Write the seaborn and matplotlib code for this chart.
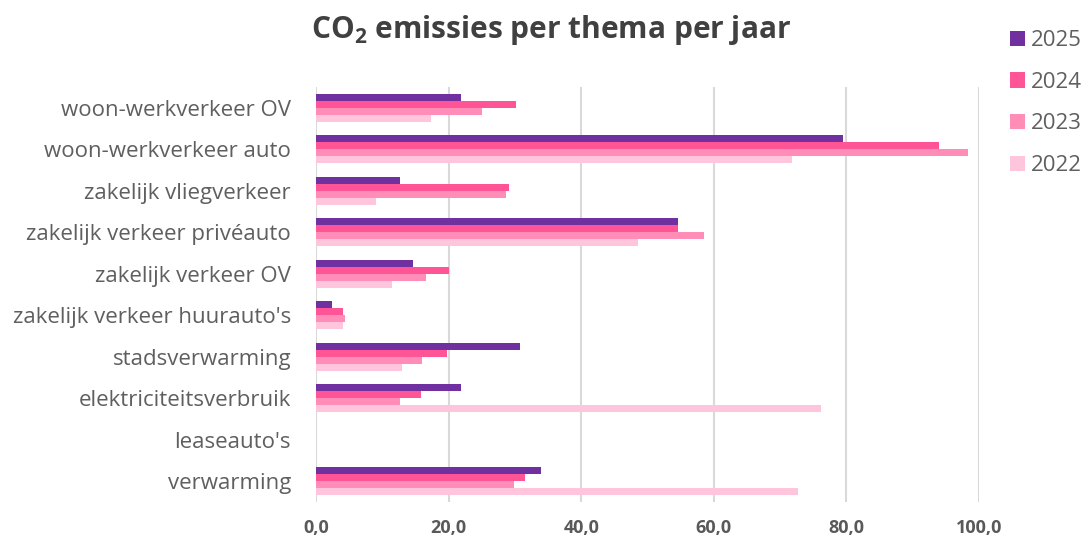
import matplotlib
matplotlib.use("Agg")
import matplotlib.pyplot as plt
import seaborn as sns
import pandas as pd

# Emission themes, top to bottom
categories = [
    "woon-werkverkeer OV",
    "woon-werkverkeer auto",
    "zakelijk vliegverkeer",
    "zakelijk verkeer privéauto",
    "zakelijk verkeer OV",
    "zakelijk verkeer huurauto's",
    "stadsverwarming",
    "elektriciteitsverbruik",
    "leaseauto's",
    "verwarming",
]
years = ["2025", "2024", "2023", "2022"]
values_2025 = [21.9, 79.5, 12.7, 54.6, 14.6, 2.4, 30.7, 21.8, 0.0, 34.0]
values_2024 = [30.2, 94.0, 29.1, 54.6, 20.1, 4.0, 19.8, 15.8, 0.0, 31.5]
values_2023 = [25.0, 98.4, 28.6, 58.5, 16.6, 4.4, 16.0, 12.7, 0.0, 29.8]
values_2022 = [17.4, 71.8, 9.1, 48.5, 11.5, 4.0, 12.9, 76.2, 0.0, 72.7]
x_ticks = [0, 20, 40, 60, 80, 100]
x_tick_labels = ["0,0", "20,0", "40,0", "60,0", "80,0", "100,0"]
colors = ["#7030A0", "#FF5597", "#FF8DB8", "#FFC5DC"]

series = [values_2025, values_2024, values_2023, values_2022]
df = pd.DataFrame(
    [(c, y, v) for y, vals in zip(years, series) for c, v in zip(categories, vals)],
    columns=["thema", "jaar", "waarde"],
)

sns.set_style("white")
plt.rcParams["font.family"] = ["Open Sans", "DejaVu Sans"]
plt.rcParams["mathtext.fontset"] = "custom"
plt.rcParams["mathtext.rm"] = "Open Sans:bold"

fig = plt.figure(figsize=(10.84, 5.48), dpi=100)
ax = fig.add_axes([316 / 1084, 46 / 548, 663 / 1084, 415 / 548])

sns.barplot(
    data=df, y="thema", x="waarde", hue="jaar",
    hue_order=years, order=categories, palette=colors,
    orient="h", width=0.675, gap=0, saturation=1, ax=ax,
    errorbar=None, linewidth=0, edgecolor="none",
)

ax.set_xlim(0, 100)
ax.set_xticks(x_ticks)
ax.set_xticklabels(x_tick_labels, fontsize=13, fontweight="bold", color="#595959")
ax.tick_params(axis="x", length=0, pad=12)
ax.tick_params(axis="y", length=0, pad=18, labelsize=16, labelcolor="#5f5f5f")
ax.set_xlabel("")
ax.set_ylabel("")
for s in ax.spines.values():
    s.set_visible(False)
ax.xaxis.grid(True, color="#D9D9D9", linewidth=1.5)
ax.yaxis.grid(False)
ax.set_axisbelow(True)

sns.move_legend(
    ax, loc="upper left", bbox_to_anchor=(990 / 1084, 1 - 10 / 548),
    bbox_transform=fig.transFigure, frameon=False, title=None,
    fontsize=16, labelcolor="#5f5f5f", handlelength=0.68, handleheight=0.68,
    handletextpad=0.28, labelspacing=0.93,
)

fig.text(551 / 1084, 1 - 30 / 548, r"CO$_{2}$ emissies per thema per jaar",
         ha="center", va="center", fontsize=21.5, fontweight="bold", color="#404040")

fig.savefig("out.png", dpi=100)
